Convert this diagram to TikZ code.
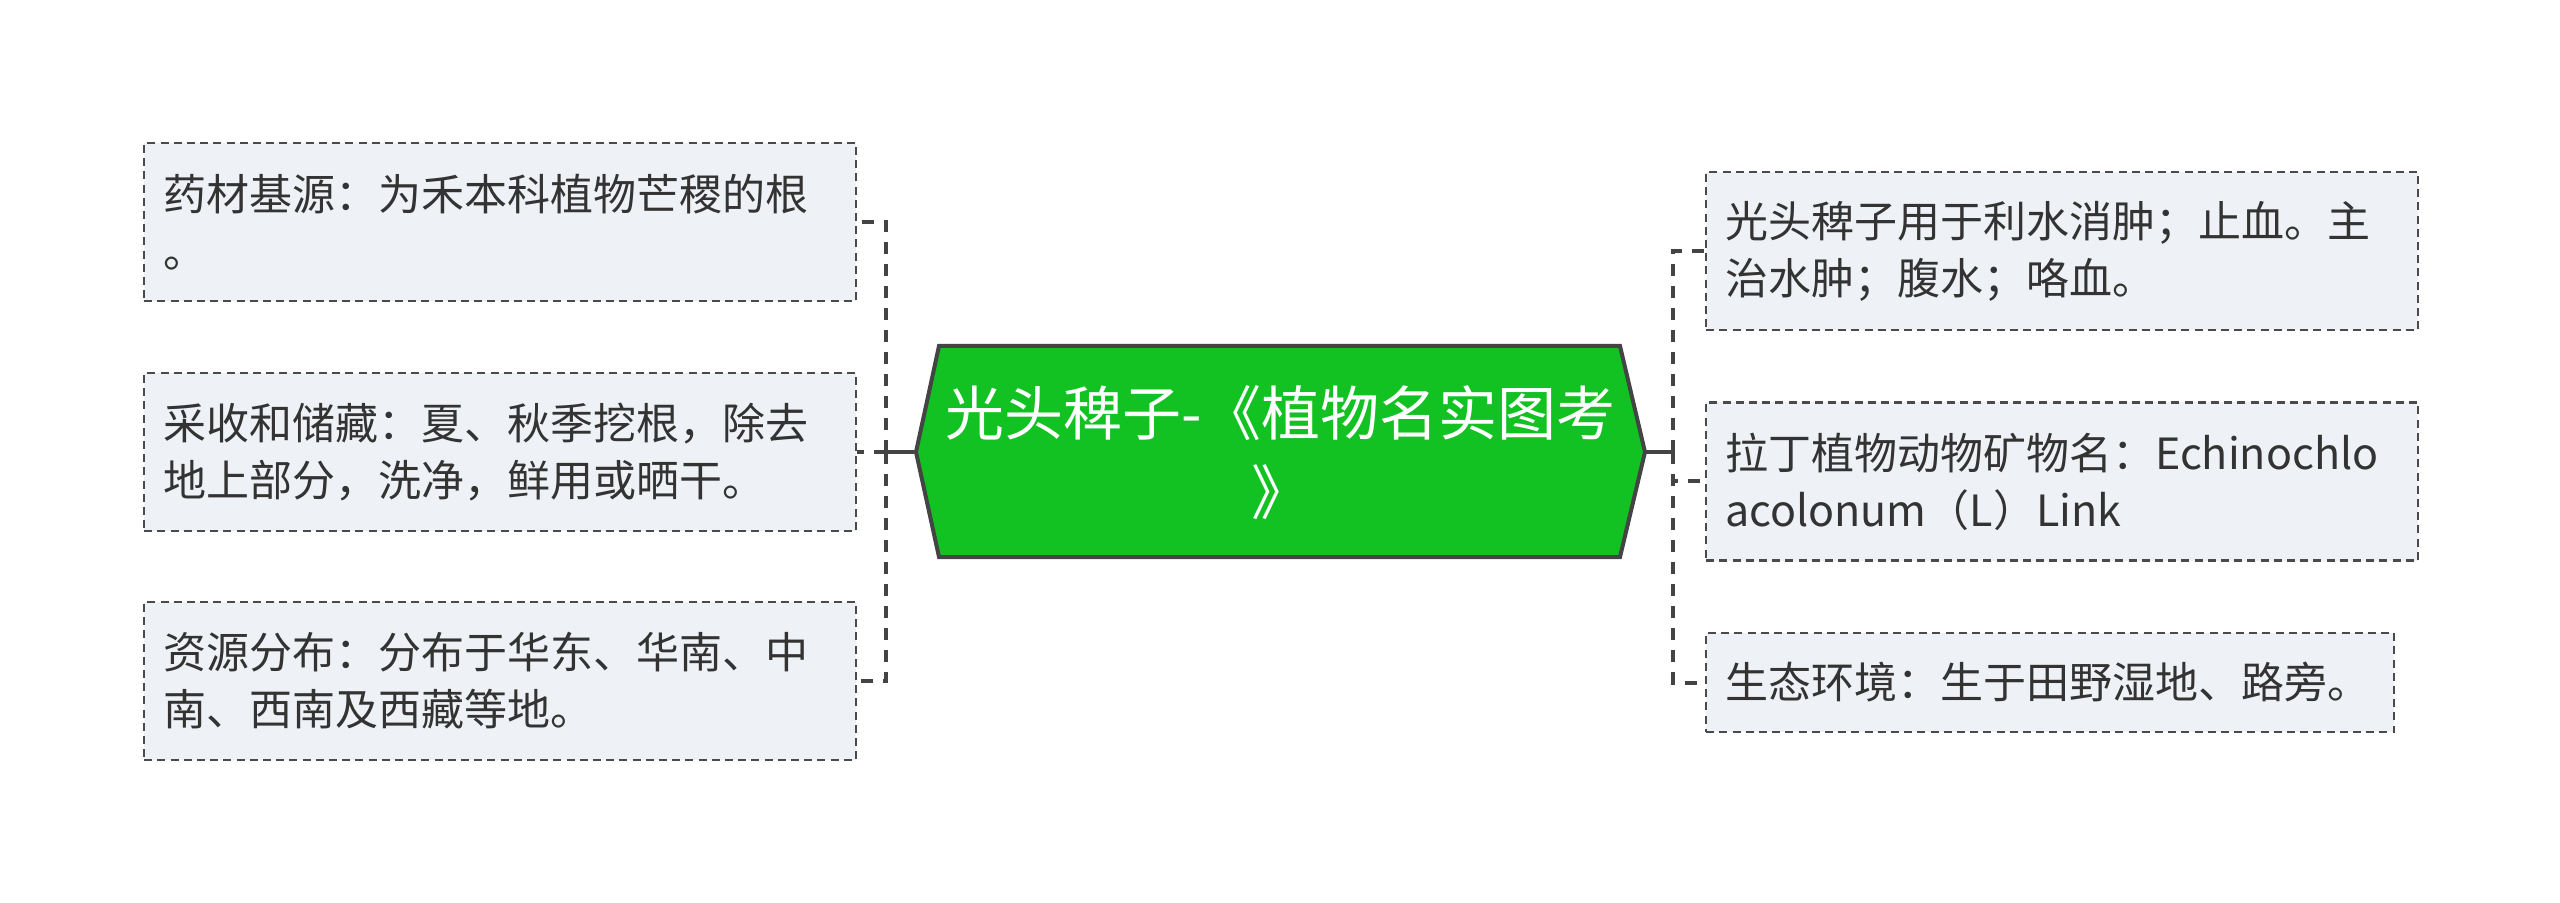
\documentclass[tikz,border=0pt]{standalone}
\usepackage{fontspec}
\setmainfont{Noto Sans CJK SC}
\definecolor{leaffill}{HTML}{EEF1F5}
\definecolor{leafline}{HTML}{4A4A4A}
\definecolor{leaftext}{HTML}{333333}
\definecolor{rootgreen}{HTML}{12C122}
\definecolor{rootline}{HTML}{444444}
\tikzset{
  leaf/.style={draw=leafline, fill=leaffill, line width=1.1pt, dash pattern=on 4pt off 2.6pt,
    text=leaftext, align=left, text width=337pt, inner xsep=9.5pt, minimum height=79pt,
    font=\fontsize{21.5pt}{28.5pt}\selectfont},
  branch/.style={draw=rootline, line width=2pt, dash pattern=on 6pt off 5pt},
  stem/.style={draw=rootline, line width=2pt},
}
\begin{document}
\begin{tikzpicture}[x=0.5pt,y=-0.5pt]
    \useasboundingbox (0,0) rectangle (2560,903);
    % central topic
    \coordinate (hexL) at (916,452);
    \coordinate (hexR) at (1645,452);
    \filldraw[fill=rootgreen, draw=rootline, line width=2pt] (hexL) -- (939,346) -- (1620,346) -- (hexR) -- (1620,557) -- (939,557) -- cycle;
    \node[text=white, align=center, font=\fontsize{29.5pt}{39.5pt}\selectfont] (root) at (1280.5,453) {光头稗子-《植物名实图考\\》};
    % left leaves
    \node[leaf, anchor=west] (l1) at (143,222) {药材基源：为禾本科植物芒稷的根\\。};
    \node[leaf, anchor=west] (l2) at (143,452) {采收和储藏：夏、秋季挖根，除去\\地上部分，洗净，鲜用或晒干。};
    \node[leaf, anchor=west] (l3) at (143,681) {资源分布：分布于华东、华南、中\\南、西南及西藏等地。};
    % right leaves
    \node[leaf, anchor=west] (r1) at (1705,251) {光头稗子用于利水消肿；止血。主\\治水肿；腹水；咯血。};
    \node[leaf, anchor=west] (r2) at (1705,481.5) {拉丁植物动物矿物名：Echinochlo\\acolonum（L）Link};
    \node[leaf, anchor=west, text width=325pt, minimum height=49.5pt] (r3) at (1705,682.5) {生态环境：生于田野湿地、路旁。};
    % connectors
    \coordinate (jL) at (886,452);
    \coordinate (jR) at (1673,452);
    \draw[stem] (hexL) -- ([xshift=-6pt]jL);
    \draw[stem] (hexR) -- ([xshift=1pt]jR);
    \foreach \leaf in {l1,l2,l3} \draw[branch] (jL) |- (\leaf.east);
    \foreach \leaf in {r1,r2,r3} \draw[branch] (jR) |- (\leaf.west);
\end{tikzpicture}
\end{document}
